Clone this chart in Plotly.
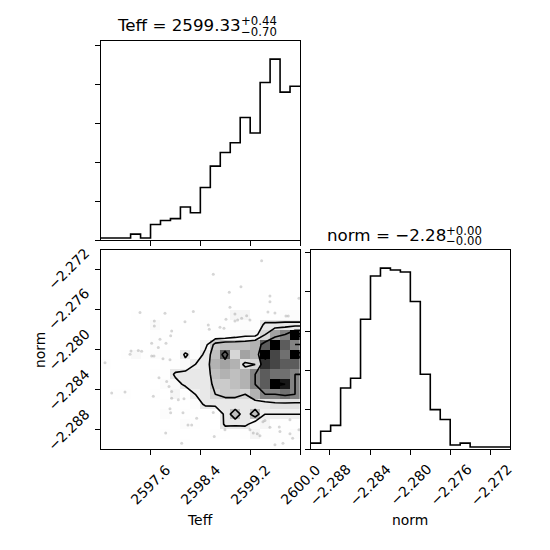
import numpy as np
import plotly.graph_objects as go

# ranges of the two parameters (taken from the axes)
teff_range = [2596.81, 2600.0]
norm_range = [-2.2899, -2.2701]

# 1D step histograms, 20 bins each
teff_counts = [1, 1, 1, 3, 1, 8, 10, 11, 17, 14, 27, 38, 45, 50, 63, 55, 81, 93, 76, 79]
norm_counts = [3, 9, 12, 31, 36, 66, 88, 92, 91, 90, 75, 38, 20, 15, 2, 3, 1, 1, 1, 1]

# 2D histogram, rows from top (high norm) to bottom, columns low -> high Teff
hist2d_rows = [
    [0, 0, 0, 0, 0, 0, 0, 0, 0, 0, 0, 0, 0, 0, 0, 0, 0, 0, 0, 0],
    [0, 0, 0, 0, 0, 0, 0, 0, 0, 0, 0, 0, 0, 0, 0, 0, 1, 0, 0, 0],
    [0, 0, 0, 0, 0, 0, 0, 0, 0, 0, 0, 1, 0, 0, 0, 0, 0, 0, 0, 0],
    [0, 0, 0, 0, 0, 0, 0, 0, 0, 0, 0, 0, 0, 0, 1, 0, 0, 0, 0, 0],
    [0, 0, 0, 0, 0, 0, 0, 0, 0, 0, 0, 0, 1, 0, 0, 0, 1, 0, 0, 1],
    [0, 0, 0, 0, 0, 0, 0, 0, 0, 0, 0, 0, 1, 0, 0, 0, 1, 0, 0, 1],
    [0, 0, 0, 1, 0, 0, 1, 0, 0, 1, 1, 0, 1, 4, 4, 0, 1, 1, 2, 2],
    [0, 0, 0, 0, 0, 3, 0, 0, 1, 0, 2, 1, 1, 1, 2, 1, 6, 6, 6, 6],
    [0, 0, 0, 0, 0, 1, 1, 1, 0, 0, 1, 2, 2, 3, 4, 4, 8, 12, 14, 20],
    [0, 0, 0, 0, 0, 2, 1, 0, 0, 0, 4, 9, 10, 10, 10, 11, 16, 20, 16, 14],
    [0, 0, 1, 3, 1, 2, 2, 0, 6, 2, 6, 10, 16, 8, 12, 11, 20, 17, 15, 20],
    [1, 0, 0, 0, 0, 0, 1, 1, 3, 5, 6, 11, 12, 11, 7, 8, 18, 17, 16, 16],
    [0, 0, 0, 0, 0, 1, 1, 6, 6, 6, 6, 10, 11, 10, 11, 14, 16, 15, 15, 14],
    [0, 0, 0, 0, 0, 0, 2, 3, 6, 6, 6, 9, 9, 10, 11, 14, 16, 20, 19, 14],
    [0, 1, 1, 0, 0, 1, 0, 4, 1, 5, 6, 8, 9, 9, 8, 11, 14, 14, 15, 14],
    [0, 0, 0, 0, 0, 0, 1, 0, 0, 2, 6, 6, 6, 6, 6, 6, 6, 7, 7, 7],
    [0, 0, 0, 0, 0, 0, 2, 0, 1, 1, 0, 1, 6, 10, 6, 10, 5, 5, 5, 5],
    [0, 0, 0, 0, 0, 0, 0, 0, 2, 1, 0, 0, 6, 6, 6, 3, 4, 1, 1, 0],
    [0, 0, 0, 0, 0, 0, 1, 0, 0, 0, 0, 1, 1, 0, 1, 4, 1, 1, 1, 2],
    [0, 0, 0, 0, 0, 0, 0, 0, 1, 0, 0, 0, 0, 0, 0, 0, 0, 1, 1, 0],
]

# samples lying outside the outer contour
pts_teff = [2599.386, 2598.612, 2599.055, 2598.868, 2599.519, 2599.983, 2598.879, 2599.519,
            2597.439, 2597.839, 2598.292, 2598.959, 2599.066, 2599.002, 2598.959, 2599.146,
            2599.199, 2598.815, 2599.487, 2599.599, 2599.775, 2599.812, 2597.668, 2597.668,
            2598.159, 2598.532, 2598.548, 2598.719, 2598.783, 2597.946, 2597.930, 2597.759,
            2597.626, 2597.855, 2597.732, 2597.295, 2597.412, 2597.466, 2597.279, 2597.626,
            2597.663, 2597.919, 2597.807, 2596.879, 2597.743, 2597.866, 2597.903, 2596.986,
            2597.199, 2597.652, 2597.946, 2597.946, 2598.052, 2598.143, 2597.919, 2597.930,
            2598.127, 2598.346, 2598.612, 2598.207, 2598.266, 2597.850, 2598.628, 2598.799,
            2598.106, 2599.199, 2599.252, 2599.316, 2599.359, 2599.407, 2599.439, 2599.668,
            2599.679, 2599.839, 2599.882, 2599.839, 2599.983, 2599.599, 2599.727, 2599.519]
pts_norm = [-2.27116, -2.27252, -2.27375, -2.27430, -2.27467, -2.27490, -2.27580, -2.27524,
            -2.27633, -2.27639, -2.27623, -2.27646, -2.27689, -2.27706, -2.27716, -2.27663,
            -2.27706, -2.27699, -2.27626, -2.27636, -2.27666, -2.27666, -2.27716, -2.27765,
            -2.27723, -2.27755, -2.27798, -2.27778, -2.27788, -2.27815, -2.27862, -2.27898,
            -2.27937, -2.27937, -2.27981, -2.28014, -2.28011, -2.28017, -2.28047, -2.28064,
            -2.28064, -2.28103, -2.28093, -2.28133, -2.28282, -2.28319, -2.28369, -2.28434,
            -2.28424, -2.28466, -2.28419, -2.28484, -2.28501, -2.28491, -2.28590, -2.28630,
            -2.28630, -2.28683, -2.28627, -2.28750, -2.28750, -2.28832, -2.28866, -2.28799,
            -2.28933, -2.28799, -2.28832, -2.28839, -2.28859, -2.28720, -2.28707, -2.28772,
            -2.28816, -2.28839, -2.28882, -2.28700, -2.28799, -2.28948, -2.28933, -2.28774]

teff_ticks = [2597.6, 2598.4, 2599.2, 2600.0]
norm_ticks = [-2.288, -2.284, -2.280, -2.276, -2.272]
hist_ticks = [0, 20, 40, 60, 80, 100]

FONT = "DejaVu Sans"
OFF = 8            # the page body keeps an 8px margin
W = H_PX = 542

nb = len(teff_counts)
teff_edges = np.linspace(teff_range[0], teff_range[1], nb + 1)
norm_edges = np.linspace(norm_range[0], norm_range[1], nb + 1)
teff_c = 0.5 * (teff_edges[1:] + teff_edges[:-1])
norm_c = 0.5 * (norm_edges[1:] + norm_edges[:-1])

Hgrid = np.array(hist2d_rows, dtype=float)[::-1]  # rows bottom -> top

# contour levels the way corner does it
levels = 1.0 - np.exp(-0.5 * np.arange(0.5, 2.1, 0.5) ** 2)
Hc = Hgrid.T  # [x, y]
Hflat = np.sort(Hc.flatten())[::-1]
sm = np.cumsum(Hflat)
sm /= sm[-1]
V = np.empty(len(levels))
for i, v0 in enumerate(levels):
    try:
        V[i] = Hflat[sm <= v0][-1]
    except IndexError:
        V[i] = Hflat[0]
V.sort()
m = np.diff(V) == 0
while np.any(m):
    V[np.where(m)[0][0]] *= 1.0 - 1e-4
    m = np.diff(V) == 0

H2 = Hc.min() + np.zeros((Hc.shape[0] + 4, Hc.shape[1] + 4))
H2[2:-2, 2:-2] = Hc
H2[2:-2, 1] = Hc[:, 0]
H2[2:-2, -2] = Hc[:, -1]
H2[1, 2:-2] = Hc[0]
H2[-2, 2:-2] = Hc[-1]
H2[1, 1] = Hc[0, 0]
H2[1, -2] = Hc[0, -1]
H2[-2, 1] = Hc[-1, 0]
H2[-2, -2] = Hc[-1, -1]
dx = teff_c[1] - teff_c[0]
dy = norm_c[1] - norm_c[0]
X2 = np.concatenate([teff_c[0] + np.array([-2, -1]) * dx, teff_c, teff_c[-1] + np.array([1, 2]) * dx])
Y2 = np.concatenate([norm_c[0] + np.array([-2, -1]) * dy, norm_c, norm_c[-1] + np.array([1, 2]) * dy])

fig = go.Figure()

# top: Teff histogram
fig.add_trace(go.Scatter(x=teff_edges, y=teff_counts + [teff_counts[-1]], mode="lines",
                         line=dict(color="black", width=1.6, shape="hv"),
                         xaxis="x", yaxis="y", hoverinfo="skip"))

# 2D panel
fig.add_trace(go.Scatter(x=pts_teff, y=pts_norm, mode="markers",
                         marker=dict(color="rgba(0,0,0,0.16)", size=3),
                         xaxis="x2", yaxis="y2", hoverinfo="skip"))
fig.add_trace(go.Heatmap(x=teff_c, y=norm_c, z=Hgrid, zmin=0, zmax=Hgrid.max(),
                         colorscale=[[0, "rgba(255,255,255,0)"], [1, "rgba(0,0,0,1)"]],
                         showscale=False, xaxis="x2", yaxis="y2", hoverinfo="skip"))
for v in V:
    fig.add_trace(go.Contour(x=X2, y=Y2, z=H2.T, showscale=False,
                             contours=dict(start=v, end=v, size=1, coloring="lines"),
                             colorscale=[[0, "black"], [1, "black"]],
                             line=dict(width=1.6, smoothing=0),
                             xaxis="x2", yaxis="y2", hoverinfo="skip"))

# right: norm histogram
fig.add_trace(go.Scatter(x=norm_edges, y=norm_counts + [norm_counts[-1]], mode="lines",
                         line=dict(color="black", width=1.6, shape="hv"),
                         xaxis="x3", yaxis="y3", hoverinfo="skip"))


def px(v):
    return (v - OFF) / W


def py(v):
    return 1 - (v - OFF) / H_PX


frame = dict(showline=True, mirror=True, linecolor="black", linewidth=1,
             ticks="outside", ticklen=5, tickwidth=1, tickcolor="black",
             showgrid=False, zeroline=False, showticklabels=False)

dom_left = [px(100.7), px(300)]
dom_right = [px(310.7), px(510)]
dom_top = [py(240), py(41)]
dom_bot = [py(449), py(250)]

fig.update_layout(
    width=W, height=H_PX, margin=dict(l=0, r=0, t=0, b=0),
    paper_bgcolor="white", plot_bgcolor="white", showlegend=False,
    font=dict(family=FONT, color="black"),
    xaxis=dict(frame, domain=dom_left, anchor="y", range=teff_range, tickvals=teff_ticks),
    yaxis=dict(frame, domain=dom_top, anchor="x", range=[0, 1.1 * max(teff_counts)], tickvals=hist_ticks),
    xaxis2=dict(frame, domain=dom_left, anchor="y2", range=teff_range, tickvals=teff_ticks),
    yaxis2=dict(frame, domain=dom_bot, anchor="x2", range=norm_range, tickvals=norm_ticks),
    xaxis3=dict(frame, domain=dom_right, anchor="y3", range=norm_range, tickvals=norm_ticks),
    yaxis3=dict(frame, domain=dom_bot, anchor="x3", range=[0, 1.1 * max(norm_counts)], tickvals=hist_ticks),
)

ann = []
tick_font = dict(family=FONT, size=13.9, color="black")
centred = dict(xanchor="center", yanchor="middle", showarrow=False)
for t in teff_ticks:
    ann.append(dict(centred, x=t, y=py(484.6), xref="x2", yref="paper", text=f"{t:.1f}",
                    textangle=-45, font=tick_font))
for t in norm_ticks:
    lab = f"{t:.3f}".replace("-", "\u2212")
    ann.append(dict(centred, x=t, y=py(484.6), xref="x3", yref="paper", text=lab,
                    textangle=-45, font=tick_font))
    ann.append(dict(centred, x=px(68.5), y=t, xref="paper", yref="y2", text=lab,
                    textangle=-45, font=tick_font))

lab_font = dict(family=FONT, size=13.9, color="black")
ann.append(dict(centred, x=px(200), y=py(519.5), xref="paper", yref="paper", text="Teff",
                font=lab_font))
ann.append(dict(centred, x=px(410), y=py(519.5), xref="paper", yref="paper", text="norm",
                font=lab_font))
ann.append(dict(centred, x=px(40), y=py(350), xref="paper", yref="paper", text="norm",
                textangle=-90, font=lab_font))

title_font = dict(family=FONT, size=16.7, color="black")
script_font = dict(family=FONT, size=11.7, color="black")
titles = [("Teff = 2599.33", "+0.44", "\u22120.70", 243, 25, 21, 31.7),
          ("norm = \u22122.28", "+0.00", "\u22120.00", 448, 235.5, 231, 241)]
for main, up, lo, xr, ym, yu, yl in titles:
    ann.append(dict(x=px(xr), y=py(ym), xref="paper", yref="paper", text=main,
                    xanchor="right", yanchor="middle", showarrow=False, font=title_font))
    ann.append(dict(x=px(xr - 3), y=py(yu), xref="paper", yref="paper", text=up, borderpad=0,
                    xanchor="left", yanchor="middle", showarrow=False, font=script_font))
    ann.append(dict(x=px(xr - 3), y=py(yl), xref="paper", yref="paper", text=lo, borderpad=0,
                    xanchor="left", yanchor="middle", showarrow=False, font=script_font))

fig.update_layout(annotations=ann)

fig.write_html("out.html")
